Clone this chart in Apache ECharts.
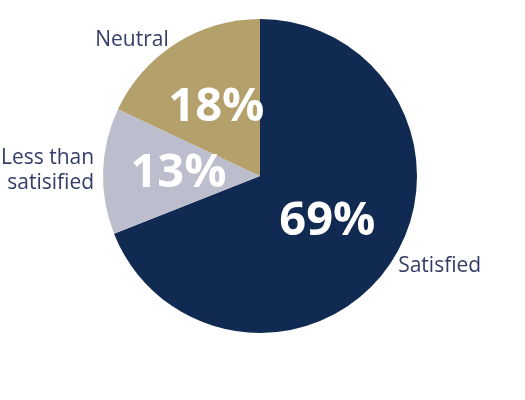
<!DOCTYPE html>
<html>
<head>
<meta charset="utf-8">
<script src="https://cdn.jsdelivr.net/npm/echarts@6/dist/echarts.min.js"></script>
<style>
  html, body { margin: 0; padding: 0; background: #ffffff; }
  #chart { width: 525px; height: 400px; }
</style>
</head>
<body>
<div id="chart"></div>
<script>
// Survey response shares (percent)
const categories = ['Satisfied', 'Less than\nsatisified', 'Neutral'];
const shares = [69, 13, 18];
const sliceColors = ['#112a52', '#bcbdcd', '#b3a06b'];

const pieData = categories.map((name, i) => ({
  name: name,
  value: shares[i],
  itemStyle: { color: sliceColors[i] }
}));

const center = [260, 176];
const radius = 157;
const fontFamily = '"Open Sans", "Noto Sans", sans-serif';

const chart = echarts.init(document.getElementById('chart'), null, { renderer: 'canvas' });
chart.setOption({
  backgroundColor: '#ffffff',
  animation: false,
  series: [
    {
      // slices with the percentage inside
      type: 'pie',
      center: center,
      radius: radius,
      startAngle: 90,
      clockwise: true,
      silent: true,
      itemStyle: { borderWidth: 0 },
      label: {
        show: true,
        position: 'inside',
        formatter: '{c}%',
        color: '#ffffff',
        fontFamily: fontFamily,
        fontWeight: 'bold',
        fontSize: 47
      },
      labelLine: { show: false },
      data: pieData
    },
    {
      // category names outside the circle
      type: 'pie',
      center: center,
      radius: radius,
      startAngle: 90,
      clockwise: true,
      silent: true,
      itemStyle: { color: 'rgba(0,0,0,0)', borderWidth: 0 },
      label: {
        show: true,
        position: 'outside',
        formatter: '{b}',
        color: '#333d68',
        fontFamily: fontFamily,
        fontSize: 21,
        lineHeight: 25,
        overflow: 'none'
      },
      labelLine: { show: false, length: 4, length2: 0 },
      data: categories.map((name, i) => ({ name: name, value: shares[i] }))
    }
  ]
});
</script>
</body>
</html>
